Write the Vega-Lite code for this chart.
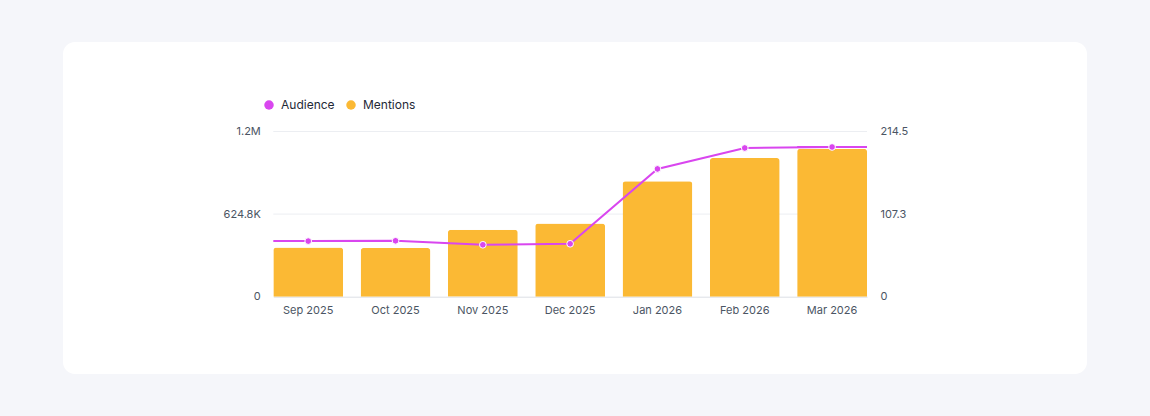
{
  "$schema": "https://vega.github.io/schema/vega-lite/v6.json",
  "width": 1024,
  "height": 332,
  "autosize": {"type": "none"},
  "padding": {"left": 63, "top": 42, "right": 63, "bottom": 42},
  "background": "#f5f6fa",
  "config": {
    "view": {"fill": "white", "stroke": null, "cornerRadius": 12},
    "font": "Inter",
    "axis": {"labelFont": "Inter", "labelFontSize": 11, "labelColor": "#4b5563", "ticks": false, "grid": false, "title": null},
    "legend": {"labelFont": "Inter", "labelFontSize": 12, "labelColor": "#1f2937"}
  },
  "data": {
    "values": [
      {"month": "Sep 2025", "mentions": 373000, "audience": 72.2},
      {"month": "Oct 2025", "mentions": 368000, "audience": 72.6},
      {"month": "Nov 2025", "mentions": 506000, "audience": 67.4},
      {"month": "Dec 2025", "mentions": 554000, "audience": 68.7},
      {"month": "Jan 2026", "mentions": 873000, "audience": 165.9},
      {"month": "Feb 2026", "mentions": 1049000, "audience": 193.1},
      {"month": "Mar 2026", "mentions": 1120000, "audience": 194.4}
    ]
  },
  "encoding": {
    "x": {
      "field": "month",
      "type": "nominal",
      "sort": null,
      "scale": {
        "domain": ["Sep 2025", "Oct 2025", "Nov 2025", "Dec 2025", "Jan 2026", "Feb 2026", "Mar 2026"],
        "range": [210.3, 804],
        "paddingInner": 0.2,
        "paddingOuter": 0
      },
      "axis": {"labelAngle": 0, "offset": -77.3, "labelPadding": 8, "domainColor": "#dcdfe5", "domainWidth": 1}
    }
  },
  "layer": [
    {
      "layer": [
        {
          "data": {"values": [{"v": 624800}, {"v": 1249600}]},
          "mark": {"type": "rule", "color": "#eceef2", "strokeWidth": 1},
          "encoding": {
            "x": {"datum": "Sep 2025", "type": "nominal", "bandPosition": 0},
            "x2": {"datum": "Mar 2026", "bandPosition": 1},
            "y": {"field": "v", "type": "quantitative"}
          }
        },
        {
          "mark": {"type": "bar", "cornerRadiusTopLeft": 3, "cornerRadiusTopRight": 3},
          "encoding": {
            "y": {
              "field": "mentions",
              "type": "quantitative",
              "scale": {"domain": [0, 1249600], "range": [254.7, 89.5], "nice": false, "zero": false},
              "axis": {
                "orient": "left",
                "offset": -210.3,
                "domain": false,
                "labelPadding": 13,
                "values": [0, 624800, 1249600],
                "labelExpr": "datum.value >= 1000000 ? format(datum.value / 1000000, '.1f') + 'M' : datum.value >= 1000 ? format(datum.value / 1000, '.1f') + 'K' : '0'"
              }
            },
            "color": {
              "datum": "Mentions",
              "type": "nominal",
              "scale": {"domain": ["Audience", "Mentions"], "range": ["#d946ef", "#fbb934"]},
              "legend": {
                "title": null,
                "orient": "none",
                "legendX": 200,
                "legendY": 57,
                "direction": "horizontal",
                "symbolType": "circle",
                "symbolSize": 90,
                "symbolStrokeWidth": 0,
                "labelOffset": 6,
                "columnPadding": 10
              }
            }
          }
        }
      ]
    },
    {
      "layer": [
        {
          "transform": [{"filter": {"field": "month", "oneOf": ["Sep 2025", "Mar 2026"]}}],
          "mark": {"type": "rule", "strokeWidth": 2},
          "encoding": {
            "x": {"field": "month", "type": "nominal", "sort": null, "bandPosition": 0},
            "x2": {"field": "month", "bandPosition": 1},
            "y": {"field": "audience", "type": "quantitative"},
            "color": {"datum": "Audience", "type": "nominal"}
          }
        },
        {
          "mark": {
            "type": "line",
            "strokeWidth": 2,
            "point": {"filled": true, "size": 45, "stroke": "white", "strokeWidth": 1}
          },
          "encoding": {
            "y": {
              "field": "audience",
              "type": "quantitative",
              "scale": {"domain": [0, 214.5], "range": [254.7, 89.5], "nice": false, "zero": false},
              "axis": {
                "orient": "right",
                "offset": -220,
                "domain": false,
                "labelPadding": 13,
                "values": [0, 107.25, 214.5],
                "labelExpr": "datum.value == 0 ? '0' : format(datum.value, '.1f')"
              }
            },
            "color": {"datum": "Audience", "type": "nominal"}
          }
        }
      ]
    }
  ],
  "resolve": {"scale": {"y": "independent"}}
}
